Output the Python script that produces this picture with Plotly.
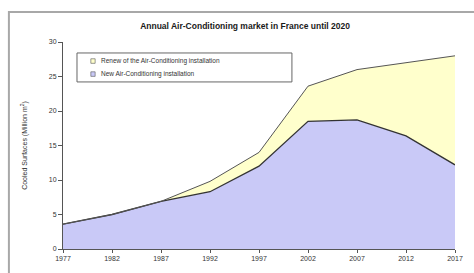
import plotly.graph_objects as go

years = ["1977", "1982", "1987", "1992", "1997", "2002", "2007", "2012", "2017"]
new_install = [3.6, 5.0, 6.9, 8.3, 12.0, 18.5, 18.7, 16.4, 12.2]
total_market = [3.6, 5.0, 6.9, 9.8, 14.0, 23.6, 26.0, 27.0, 28.0]
y_ticks = [0, 5, 10, 15, 20, 25, 30]
legend_labels = ["Renew of the Air-Conditioning installation",
                 "New Air-Conditioning installation"]

blue_fill = "#c9c9f7"
yellow_fill = "#ffffcc"

fig = go.Figure()
fig.add_trace(go.Scatter(
    x=years, y=new_install, mode="lines", fill="tozeroy",
    fillcolor=blue_fill, line=dict(color="#333333", width=1.3),
    name=legend_labels[1], showlegend=False))
fig.add_trace(go.Scatter(
    x=years, y=total_market, mode="lines", fill="tonexty",
    fillcolor=yellow_fill, line=dict(color="#555555", width=1),
    name=legend_labels[0], showlegend=False))

font = "Liberation Sans, Arial, sans-serif"
fig.update_layout(
    width=474, height=273,
    margin=dict(l=63, r=19, t=42, b=24),
    paper_bgcolor="white", plot_bgcolor="white",
    font=dict(family=font, size=7, color="#333333"),
    title=dict(text="<b>Annual Air-Conditioning market in France until 2020</b>",
               x=0.517, xanchor="center", y=0.905, yanchor="middle",
               font=dict(size=8.5, color="#1a1a1a", family=font)),
    showlegend=False,
    xaxis=dict(type="category", range=[0, 8], showgrid=False,
               showline=True, linecolor="#555555", linewidth=1,
               ticks="outside", ticklen=3, tickcolor="#555555",
               tickfont=dict(size=7, color="#333333"), zeroline=False),
    yaxis=dict(range=[0, 30], tickvals=y_ticks, showgrid=False,
               showline=True, linecolor="#555555", linewidth=1,
               ticks="outside", ticklen=4, tickcolor="#555555",
               tickfont=dict(size=7, color="#333333"), zeroline=False,
               title=dict(text="Cooled Surfaces (Million m<sup>2</sup>)",
                          font=dict(size=7, color="#333333"), standoff=20)),
)

# outer chart frame
fig.add_shape(type="rect", xref="paper", yref="paper",
              x0=-0.138, y0=-0.2, x1=1.2, y1=1.145,
              line=dict(color="#a8a8a8", width=2), fillcolor="rgba(0,0,0,0)",
              layer="below")

# legend box (drawn manually to match the compact row spacing)
fig.add_shape(type="rect", xref="paper", yref="paper",
              x0=0.0357, y0=0.807, x1=0.584, y1=0.947,
              line=dict(color="#666666", width=1), fillcolor="white")
legend_fills = [yellow_fill, blue_fill]
legend_rows = [0.908, 0.845]
for label, fc, yc in zip(legend_labels, legend_fills, legend_rows):
    fig.add_shape(type="rect", xref="paper", yref="paper",
                  x0=0.071, x1=0.082, y0=yc - 0.011, y1=yc + 0.011,
                  line=dict(color="#555555", width=0.6), fillcolor=fc)
    fig.add_annotation(text=label, xref="paper", yref="paper",
                       x=0.092, y=yc, xanchor="left", yanchor="middle",
                       showarrow=False,
                       font=dict(size=6.5, color="#333333", family=font))

fig.write_html("out.html", config={"displayModeBar": False},
               post_script="document.body.style.margin='0px';")
